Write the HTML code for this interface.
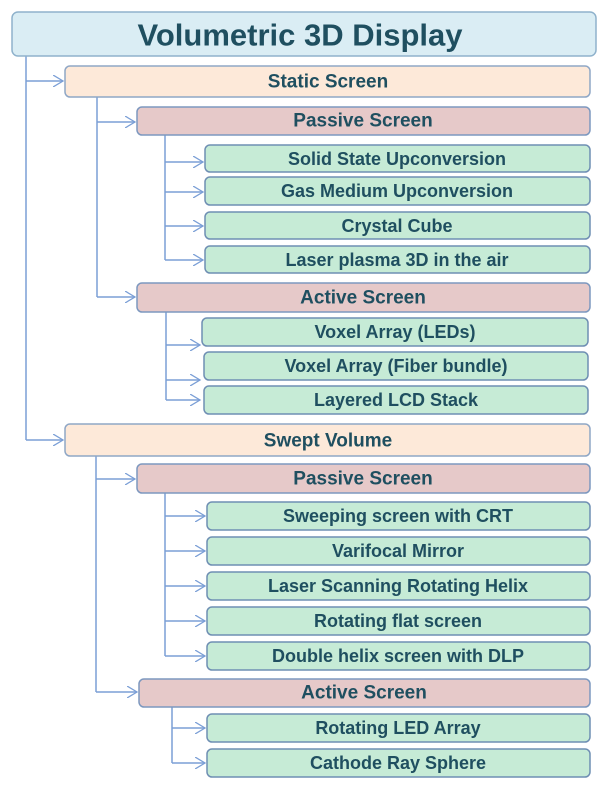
<!DOCTYPE html>
<html><head><meta charset="utf-8"><style>
body{margin:0;background:#fff}
text{font-family:"Liberation Sans",sans-serif;font-weight:bold;fill:#1f4f60;text-anchor:middle;dominant-baseline:central}
</style></head><body>
<svg width="602" height="790" viewBox="0 0 602 790" xmlns="http://www.w3.org/2000/svg">
<defs><marker id="a" markerWidth="12" markerHeight="12" refX="10" refY="6" orient="auto" markerUnits="userSpaceOnUse"><path d="M0,0 L10,6 L0,12" fill="none" stroke="#7b9fd6" stroke-width="1.3"/></marker></defs>
<g stroke="#7b9fd6" stroke-width="1.5" fill="none">
<path d="M26,56 V440"/><path d="M26,81 H63" marker-end="url(#a)"/><path d="M26,440 H63" marker-end="url(#a)"/>
<path d="M97,97 V297"/><path d="M97,122 H135" marker-end="url(#a)"/><path d="M97,297 H135" marker-end="url(#a)"/>
<path d="M165,131 V260"/><path d="M165,162 H203" marker-end="url(#a)"/><path d="M165,192 H203" marker-end="url(#a)"/><path d="M165,226 H203" marker-end="url(#a)"/><path d="M165,260 H203" marker-end="url(#a)"/>
<path d="M166,312 V400"/><path d="M166,345 H200" marker-end="url(#a)"/><path d="M166,380 H200" marker-end="url(#a)"/><path d="M166,400 H200" marker-end="url(#a)"/>
<path d="M96,456 V692"/><path d="M96,479 H135" marker-end="url(#a)"/><path d="M96,692 H137" marker-end="url(#a)"/>
<path d="M165,493 V656"/><path d="M165,516 H205" marker-end="url(#a)"/><path d="M165,551 H205" marker-end="url(#a)"/><path d="M165,586 H205" marker-end="url(#a)"/><path d="M165,621 H205" marker-end="url(#a)"/><path d="M165,656 H205" marker-end="url(#a)"/>
<path d="M172,707 V763"/><path d="M172,728 H205" marker-end="url(#a)"/><path d="M172,763 H205" marker-end="url(#a)"/>
</g>
<g stroke-width="1.5">
<rect x="12" y="12" width="584" height="44" rx="6" fill="#daedf4" stroke="#8fb2cc"/>
<rect x="65" y="66" width="525" height="31" rx="5" fill="#fde9d9" stroke="#8fa7c6"/>
<rect x="65" y="424" width="525" height="32" rx="5" fill="#fde9d9" stroke="#8fa7c6"/>
<g fill="#e6c9c9" stroke="#7d98bf">
<rect x="137" y="107" width="453" height="28" rx="5"/><rect x="137" y="283" width="453" height="29" rx="5"/>
<rect x="137" y="464" width="453" height="29" rx="5"/><rect x="139" y="679" width="451" height="28" rx="5"/>
</g>
<g fill="#c6ebd6" stroke="#6f8fb3">
<rect x="205" y="145" width="385" height="27" rx="5"/><rect x="205" y="177" width="385" height="28" rx="5"/>
<rect x="205" y="212" width="385" height="27" rx="5"/><rect x="205" y="246" width="385" height="27" rx="5"/>
<rect x="202" y="318" width="386" height="28" rx="5"/><rect x="204" y="352" width="384" height="28" rx="5"/>
<rect x="204" y="386" width="384" height="28" rx="5"/>
<rect x="207" y="502" width="383" height="28" rx="5"/><rect x="207" y="537" width="383" height="28" rx="5"/>
<rect x="207" y="572" width="383" height="28" rx="5"/><rect x="207" y="607" width="383" height="28" rx="5"/>
<rect x="207" y="642" width="383" height="28" rx="5"/>
<rect x="207" y="714" width="383" height="28" rx="5"/><rect x="207" y="749" width="383" height="28" rx="5"/>
</g>
</g>
<text x="300" y="35" font-size="31">Volumetric 3D Display</text>
<g font-size="19">
<text x="328" y="82">Static Screen</text><text x="328" y="441">Swept Volume</text>
<text x="363" y="121">Passive Screen</text><text x="363" y="298">Active Screen</text>
<text x="363" y="479">Passive Screen</text><text x="364" y="693">Active Screen</text>
</g>
<g font-size="18">
<text x="397" y="159">Solid State Upconversion</text><text x="397" y="191">Gas Medium Upconversion</text>
<text x="397" y="226">Crystal Cube</text><text x="397" y="260">Laser plasma 3D in the air</text>
<text x="395" y="332">Voxel Array (LEDs)</text><text x="396" y="366">Voxel Array (Fiber bundle)</text>
<text x="396" y="400">Layered LCD Stack</text>
<text x="398" y="516">Sweeping screen with CRT</text><text x="398" y="551">Varifocal Mirror</text>
<text x="398" y="586">Laser Scanning Rotating Helix</text><text x="398" y="621">Rotating flat screen</text>
<text x="398" y="656">Double helix screen with DLP</text>
<text x="398" y="728">Rotating LED Array</text><text x="398" y="763">Cathode Ray Sphere</text>
</g>
</svg>
</body></html>
